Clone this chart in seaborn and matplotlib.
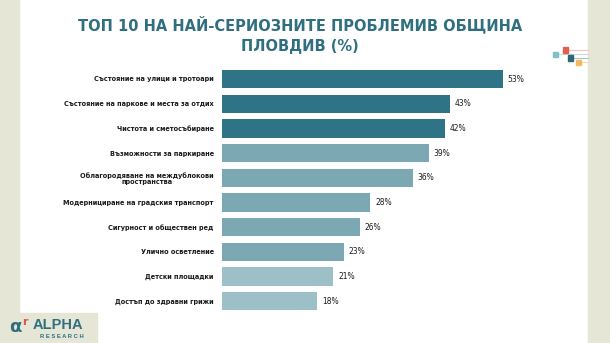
import matplotlib
matplotlib.use("Agg")
import matplotlib.pyplot as plt
import matplotlib.patches as mpatches
import seaborn as sns
import pandas as pd
from matplotlib import font_manager

categories = [
    "Състояние на улици и тротоари",
    "Състояние на паркове и места за отдих",
    "Чистота и сметосъбиране",
    "Възможности за паркиране",
    "Облагородяване на междублокови\nпространства",
    "Модернициране на градския транспорт",
    "Сигурност и обществен ред",
    "Улично осветление",
    "Детски площадки",
    "Достъп до здравни грижи",
]
values = [53, 43, 42, 39, 36, 28, 26, 23, 21, 18]
bar_colors = ["#2F7387", "#2F7387", "#2F7387", "#7CA8B3", "#7CA8B3",
              "#7CA8B3", "#7CA8B3", "#7CA8B3", "#9CBFC8", "#9CBFC8"]
title = "ТОП 10 НА НАЙ-СЕРИОЗНИТЕ ПРОБЛЕМИВ ОБЩИНА\nПЛОВДИВ (%)"

sns.set_theme(style="white")
fl = font_manager.fontManager.ttflist
names = {f.name for f in fl}
if "Liberation Sans Narrow" in names:
    cfam, cstretch = "Liberation Sans Narrow", "normal"
elif any(f.name == "DejaVu Sans" and f.stretch == "condensed" for f in fl):
    cfam, cstretch = "DejaVu Sans", "condensed"
else:
    cfam, cstretch = "Liberation Sans", "normal"
plt.rcParams["font.family"] = ["Liberation Sans", "DejaVu Sans"]

W, H = 610, 343
fig = plt.figure(figsize=(W / 100, H / 100), dpi=100)
fig.patch.set_facecolor("white")
renderer = fig.canvas.get_renderer()

def fit(t, target_w):
    w = t.get_window_extent(renderer).width
    if w > 0:
        t.set_fontsize(t.get_fontsize() * target_w / w)

# side strips
beige = "#E5E6D6"
fig.add_artist(mpatches.Rectangle((0, 0), 19 / W, 1, transform=fig.transFigure,
                                  color=beige, zorder=0))
fig.add_artist(mpatches.Rectangle((588 / W, 0), 22 / W, 1, transform=fig.transFigure,
                                  color=beige, zorder=0))
fig.add_artist(mpatches.Rectangle((0, 0), 97 / W, 30 / H, transform=fig.transFigure,
                                  color=beige, zorder=0))

# axes
x0, x1 = 222, 588
top_px, bot_px = 67, 320
ax = fig.add_axes([x0 / W, (H - bot_px) / H, (x1 - x0) / W, (bot_px - top_px) / H])
ax.set_facecolor("none")

df = pd.DataFrame({"cat": categories, "val": values})
sns.barplot(data=df, x="val", y="cat", hue="cat", palette=bar_colors, legend=False,
            orient="h", width=0.74, ax=ax, saturation=1, edgecolor="none")

ppu = 5.3
ax.set_xlim(0, (x1 - x0) / ppu)
unit = 24.7
ax.set_ylim((bot_px - 79) / unit, -(79 - top_px) / unit)

for i, v in enumerate(values):
    ax.text(v + 0.9, i, f"{v}%", va="center", ha="left", fontsize=6.0,
            color="#1A1A1A", family=[cfam, "DejaVu Sans"], fontstretch=cstretch)

ax.set_xlabel("")
ax.set_ylabel("")
ax.set_xticks([])
ax.tick_params(axis="y", length=0, pad=6)
labs = ax.get_yticklabels()
for lab in labs:
    lab.set_fontsize(6.3)
    lab.set_fontweight("bold")
    lab.set_color("#1A1A1A")
    lab.set_family([cfam, "DejaVu Sans"])
    lab.set_fontstretch(cstretch)
    lab.set_multialignment("center")
    lab.set_linespacing(1.05)
sns.despine(ax=ax, left=True, bottom=True)
fig.canvas.draw()
ref = labs[1]
w = ref.get_window_extent(renderer).width
scale = 152 / w if w > 0 else 1
for lab in labs:
    lab.set_fontsize(6.3 * scale)

# title
tt = fig.text(300 / W, 1 - 35 / H, title, ha="center", va="center", fontsize=14.5,
              fontweight="bold", color="#2F6F80", family=[cfam, "DejaVu Sans"],
              fontstretch=cstretch, linespacing=1.45)
fit(tt, 443)

# decorative squares
def sq(x, y, c, s=5):
    fig.add_artist(mpatches.Rectangle((x / W, 1 - (y + s) / H), s / W, s / H,
                                      transform=fig.transFigure, color=c, zorder=3))
def ln(xa, xb, y, c):
    fig.add_artist(plt.Line2D([xa / W, xb / W], [1 - y / H, 1 - y / H],
                              transform=fig.transFigure, color=c, lw=0.8, zorder=2))
ln(568, 588, 50, "#F3C4BC"); sq(563, 47.5, "#E0614C")
ln(557, 588, 54, "#BFDDE2"); sq(553, 52, "#82C0C8")
ln(572, 588, 58, "#A9C3CC"); sq(568, 55.5, "#2F6678")
ln(580, 588, 62, "#F7DDA8"); sq(576, 60, "#F2B962")

# logo
fig.text(9 / W, 1 - 327 / H, "α", fontsize=13, fontweight="bold", color="#2F6F80",
         ha="left", va="center", family=["DejaVu Sans"])
fig.text(22 / W, 1 - 322 / H, "r", fontsize=8, fontweight="bold", color="#D9534F",
         ha="left", va="center", family=["DejaVu Sans"])
fig.text(33 / W, 1 - 325 / H, "ALPHA", fontsize=10.5, fontweight="bold", color="#2F6F80",
         ha="left", va="center", family=["Liberation Sans", "DejaVu Sans"])
fig.text(40 / W, 1 - 336 / H, "R E S E A R C H", fontsize=4.2, fontweight="bold",
         color="#2F6F80", ha="left", va="center", family=["Liberation Sans", "DejaVu Sans"])

fig.savefig("out.png", dpi=100, facecolor="white")
